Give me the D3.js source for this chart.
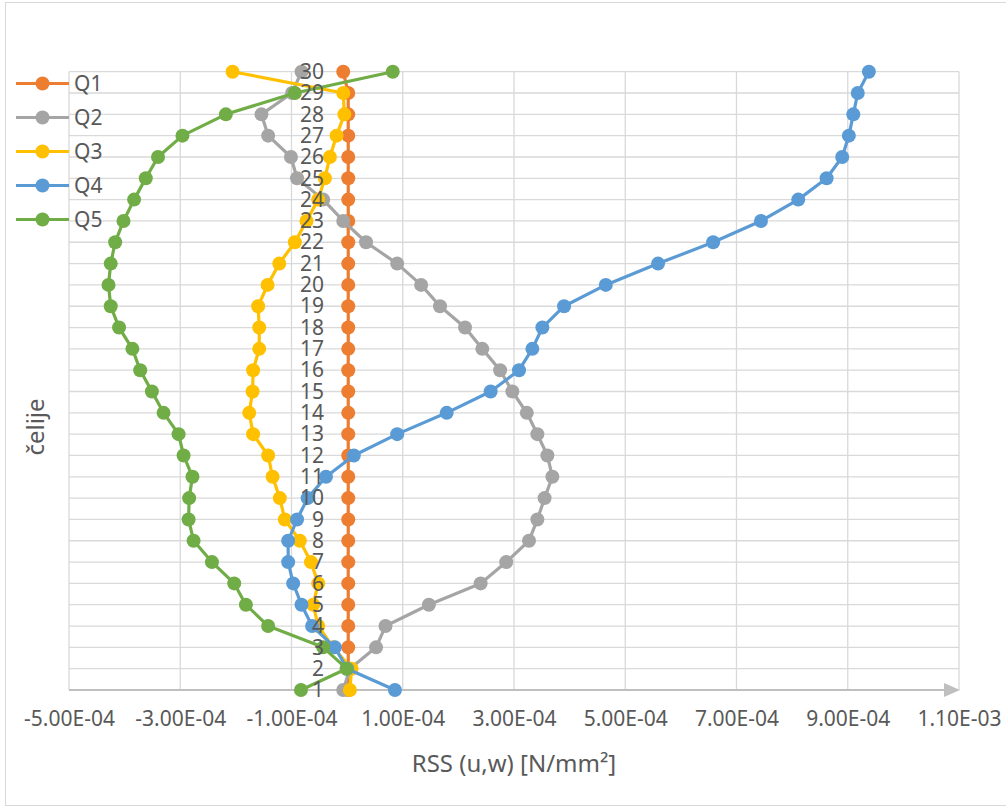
<!DOCTYPE html>
<html lang="sl">
<head>
<meta charset="UTF-8">
<title>RSS (u,w)</title>
<style>
  body { margin: 0; background: #fff; }
  svg { display: block; font-family: "Noto Sans", "Open Sans", sans-serif; }
</style>
</head>
<body>
<script src="https://cdnjs.cloudflare.com/ajax/libs/d3/7.8.5/d3.min.js"></script>
<script>
// rows (čelije) 1..30
let rows = d3.range(1, 31)
let seriesNames = ["Q1", "Q2", "Q3", "Q4", "Q5"]
let colors = ["#ED7D31", "#A5A5A5", "#FFC000", "#5B9BD5", "#70AD47"]

let Q1 = [0.02e-4, 0.02e-4, 0.02e-4, 0.02e-4, 0.02e-4, 0.02e-4, 0.02e-4, 0.02e-4, 0.02e-4, 0.02e-4,
          0.02e-4, 0.02e-4, 0.02e-4, 0.02e-4, 0.02e-4, 0.02e-4, 0.02e-4, 0.02e-4, 0.02e-4, 0.02e-4,
          0.02e-4, 0.02e-4, 0.02e-4, 0.02e-4, 0.02e-4, 0.02e-4, 0.02e-4, 0.02e-4, 0.02e-4, -0.07e-4]
let Q2 = [-0.07e-4, 0.05e-4, 0.52e-4, 0.69e-4, 1.47e-4, 2.40e-4, 2.86e-4, 3.27e-4, 3.42e-4, 3.55e-4,
          3.69e-4, 3.60e-4, 3.42e-4, 3.23e-4, 2.97e-4, 2.75e-4, 2.43e-4, 2.12e-4, 1.67e-4, 1.33e-4,
          0.90e-4, 0.34e-4, -0.07e-4, -0.43e-4, -0.90e-4, -1.01e-4, -1.42e-4, -1.54e-4, -0.99e-4, -0.82e-4]
let Q3 = [0.05e-4, 0.08e-4, -0.25e-4, -0.52e-4, -0.61e-4, -0.52e-4, -0.65e-4, -0.85e-4, -1.12e-4, -1.21e-4,
          -1.34e-4, -1.42e-4, -1.69e-4, -1.76e-4, -1.70e-4, -1.69e-4, -1.58e-4, -1.58e-4, -1.60e-4, -1.43e-4,
          -1.22e-4, -0.94e-4, -0.73e-4, -0.52e-4, -0.40e-4, -0.31e-4, -0.19e-4, -0.05e-4, -0.07e-4, -2.06e-4]
let Q4 = [0.86e-4, 0.00e-4, -0.22e-4, -0.63e-4, -0.82e-4, -0.97e-4, -1.06e-4, -1.06e-4, -0.90e-4, -0.71e-4,
          -0.38e-4, 0.12e-4, 0.90e-4, 1.79e-4, 2.58e-4, 3.09e-4, 3.33e-4, 3.51e-4, 3.90e-4, 4.65e-4,
          5.59e-4, 6.58e-4, 7.44e-4, 8.11e-4, 8.62e-4, 8.90e-4, 9.02e-4, 9.10e-4, 9.18e-4, 9.38e-4]
let Q5 = [-0.83e-4, -0.01e-4, -0.43e-4, -1.42e-4, -1.82e-4, -2.03e-4, -2.43e-4, -2.76e-4, -2.85e-4, -2.84e-4,
          -2.78e-4, -2.94e-4, -3.03e-4, -3.30e-4, -3.51e-4, -3.72e-4, -3.86e-4, -4.10e-4, -4.25e-4, -4.29e-4,
          -4.25e-4, -4.17e-4, -4.02e-4, -3.83e-4, -3.62e-4, -3.40e-4, -2.96e-4, -2.18e-4, -0.94e-4, 0.82e-4]

let xTicks = [-5e-4, -3e-4, -1e-4, 1e-4, 3e-4, 5e-4, 7e-4, 9e-4, 1.1e-3]

let series = [Q1, Q2, Q3, Q4, Q5]

let width = 1006
let height = 809
let plotLeft = 69, plotRight = 959, plotTop = 71.7, plotBottom = 690

let svg = d3.select("body").append("svg")
    .attr("width", width)
    .attr("height", height)

// chart area border
svg.append("rect")
    .attr("x", 5.5).attr("y", 2.5)
    .attr("width", 1010).attr("height", 803)
    .attr("fill", "#fff")
    .attr("stroke", "#d9d9d9")

let x = d3.scaleLinear().domain([-5e-4, 1.1e-3]).range([plotLeft, plotRight])
let y = d3.scalePoint().domain(rows).range([plotBottom, plotTop])

// 1.00E-04 style
function fmt(v) {
    let [m, e] = v.toExponential(2).toUpperCase().split("E")
    let sign = e[0] === "-" ? "-" : "+"
    let digits = e.replace(/[+-]/, "").padStart(2, "0")
    return m + "E" + sign + digits
}

// gridlines
let grid = svg.append("g").attr("stroke", "#d9d9d9").attr("stroke-width", 1.3)
grid.selectAll(".h").data(rows.slice(1)).enter().append("line")
    .attr("x1", plotLeft).attr("x2", plotRight)
    .attr("y1", d => y(d)).attr("y2", d => y(d))
grid.selectAll(".v").data(xTicks).enter().append("line")
    .attr("x1", d => x(d)).attr("x2", d => x(d))
    .attr("y1", plotTop).attr("y2", plotBottom)

// x axis
let xAxis = svg.append("g")
    .attr("transform", `translate(0,${plotBottom})`)
    .call(d3.axisBottom(x).tickValues(xTicks).tickSize(0).tickPadding(21).tickFormat(fmt))
xAxis.select(".domain").remove()
xAxis.selectAll("text")
    .attr("fill", "#595959")
    .style("font-size", "21px")
    .style("font-family", "'Noto Sans', sans-serif")

svg.append("line")
    .attr("x1", plotLeft).attr("x2", plotRight - 12)
    .attr("y1", plotBottom).attr("y2", plotBottom)
    .attr("stroke", "#bfbfbf").attr("stroke-width", 2)
svg.append("path")
    .attr("d", `M${plotRight - 15},${plotBottom - 7}L${plotRight + 1},${plotBottom}L${plotRight - 15},${plotBottom + 7}Z`)
    .attr("fill", "#bfbfbf")

// series
let line = d3.line()
    .x(d => x(d[1]))
    .y(d => y(d[0]))

series.forEach((vals, i) => {
    let pts = rows.map((r, j) => [r, vals[j]])
    let g = svg.append("g")
    g.append("path")
        .datum(pts)
        .attr("d", line)
        .attr("fill", "none")
        .attr("stroke", colors[i])
        .attr("stroke-width", 3.2)
        .attr("stroke-linejoin", "round")
    g.selectAll("circle").data(pts).enter().append("circle")
        .attr("cx", d => x(d[1]))
        .attr("cy", d => y(d[0]))
        .attr("r", 7)
        .attr("fill", colors[i])
})

// category labels next to the value 0 crossing
let yAxis = svg.append("g")
    .attr("transform", `translate(${x(0) - 1},0)`)
    .call(d3.axisLeft(y).tickSize(0).tickPadding(22))
yAxis.select(".domain").remove()
yAxis.selectAll("text")
    .attr("fill", "#595959")
    .style("font-size", "21px")
    .style("font-family", "'Noto Sans', sans-serif")

// axis titles
svg.append("text")
    .attr("x", 514).attr("y", 772)
    .attr("text-anchor", "middle")
    .attr("fill", "#595959")
    .style("font-size", "24px")
    .text("RSS (u,w) [N/mm²]")

svg.append("text")
    .attr("transform", "translate(44,427) rotate(-90)")
    .attr("text-anchor", "middle")
    .attr("fill", "#595959")
    .style("font-size", "24px")
    .text("čelije")

// legend
let legend = svg.append("g")
seriesNames.forEach((name, i) => {
    let ly = 83.5 + i * 34
    legend.append("line")
        .attr("x1", 16).attr("x2", 69)
        .attr("y1", ly).attr("y2", ly)
        .attr("stroke", colors[i]).attr("stroke-width", 3.2)
    legend.append("circle")
        .attr("cx", 42.5).attr("cy", ly).attr("r", 7)
        .attr("fill", colors[i])
    legend.append("text")
        .attr("x", 74).attr("y", ly + 7.5)
        .attr("fill", "#595959")
        .style("font-size", "21px")
        .text(name)
})
</script>
</body>
</html>
